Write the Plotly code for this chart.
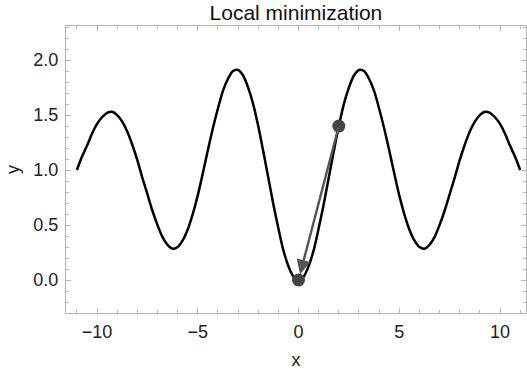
import plotly.graph_objects as go

# Curve values (x step 0.25)
curve_x = [-11, -10.75, -10.5, -10.25, -10, -9.75, -9.5, -9.25, -9, -8.75, -8.5, -8.25, -8,
           -7.75, -7.5, -7.25, -7, -6.75, -6.5, -6.25, -6, -5.75, -5.5, -5.25, -5,
           -4.75, -4.5, -4.25, -4, -3.75, -3.5, -3.25, -3, -2.75, -2.5, -2.25, -2,
           -1.75, -1.5, -1.25, -1, -0.75, -0.5, -0.25, 0,
           0.25, 0.5, 0.75, 1, 1.25, 1.5, 1.75, 2, 2.25, 2.5, 2.75, 3, 3.25, 3.5, 3.75, 4,
           4.25, 4.5, 4.75, 5, 5.25, 5.5, 5.75, 6, 6.25, 6.5, 6.75, 7, 7.25, 7.5, 7.75, 8,
           8.25, 8.5, 8.75, 9, 9.25, 9.5, 9.75, 10, 10.25, 10.5, 10.75, 11]
curve_y = [1.00, 1.12, 1.22, 1.33, 1.42, 1.48, 1.52, 1.53, 1.50, 1.44, 1.35, 1.23, 1.09,
           0.93, 0.78, 0.63, 0.50, 0.39, 0.32, 0.285, 0.30, 0.36, 0.46, 0.60, 0.77,
           0.97, 1.18, 1.38, 1.56, 1.72, 1.83, 1.90, 1.91, 1.86, 1.75, 1.60, 1.40,
           1.17, 0.93, 0.69, 0.47, 0.27, 0.125, 0.03, 0.00,
           0.03, 0.125, 0.27, 0.47, 0.69, 0.93, 1.17, 1.40, 1.60, 1.75, 1.86, 1.91, 1.90,
           1.83, 1.72, 1.56, 1.38, 1.18, 0.97, 0.77, 0.60, 0.46, 0.36, 0.30, 0.285, 0.32,
           0.39, 0.50, 0.63, 0.78, 0.93, 1.09, 1.23, 1.35, 1.44, 1.50, 1.53, 1.52, 1.48,
           1.42, 1.33, 1.22, 1.12, 1.00]

# Start point and found local minimum
start_x, start_y = 2.0, 1.4
min_x, min_y = 0.0, 0.0

x_ticks = [-10, -5, 0, 5, 10]
x_tick_labels = ["\u221210", "\u22125", "0", "5", "10"]
y_ticks = [0.0, 0.5, 1.0, 1.5, 2.0]
y_tick_labels = ["0.0", "0.5", "1.0", "1.5", "2.0"]

fig = go.Figure()
fig.add_trace(go.Scatter(x=curve_x, y=curve_y, mode="lines",
                         line=dict(color="black", width=2.5, shape="spline", smoothing=0.8),
                         hoverinfo="skip", showlegend=False))
fig.add_annotation(x=min_x, y=min_y, ax=start_x, ay=start_y, xref="x", yref="y",
                   axref="x", ayref="y", showarrow=True, arrowhead=2, arrowsize=1.2,
                   arrowwidth=2.4, arrowcolor="#555555", standoff=6, text="")
fig.add_trace(go.Scatter(x=[start_x, min_x], y=[start_y, min_y], mode="markers",
                         marker=dict(color="#444444", size=13), showlegend=False))

frame = "#b4b4b4"
fig.update_layout(
    width=527, height=372,
    margin=dict(l=66, r=1, t=26, b=59),
    paper_bgcolor="white", plot_bgcolor="white",
    font=dict(family="Liberation Sans, Arial, sans-serif", size=18, color="#222222"),
    title=dict(text="Local minimization", x=0.5615, xanchor="center", y=0.985, yanchor="top",
               font=dict(size=21, color="#111111")),
    xaxis=dict(range=[-11.54, 11.29], tickvals=x_ticks, ticktext=x_tick_labels,
               showgrid=False, zeroline=False, showline=True, linecolor=frame, linewidth=1.2,
               mirror="allticks", ticks="inside", ticklen=5, tickcolor=frame,
               minor=dict(dtick=1, ticks="inside", ticklen=3, tickcolor=frame),
               automargin=False, ticklabelstandoff=2,
               title=dict(text="x", standoff=12, font=dict(size=18))),
    yaxis=dict(range=[-0.30, 2.31], tickvals=y_ticks, ticktext=y_tick_labels,
               showgrid=False, zeroline=False, showline=True, linecolor=frame, linewidth=1.2,
               mirror="allticks", ticks="inside", ticklen=5, tickcolor=frame,
               minor=dict(dtick=0.1, ticks="inside", ticklen=3, tickcolor=frame),
               automargin=False, ticklabelstandoff=3,
               title=dict(text="y", standoff=8, font=dict(size=18))),
)

fig.write_html("out.html", config={"displayModeBar": False},
               post_script="document.body.style.margin='0';")
